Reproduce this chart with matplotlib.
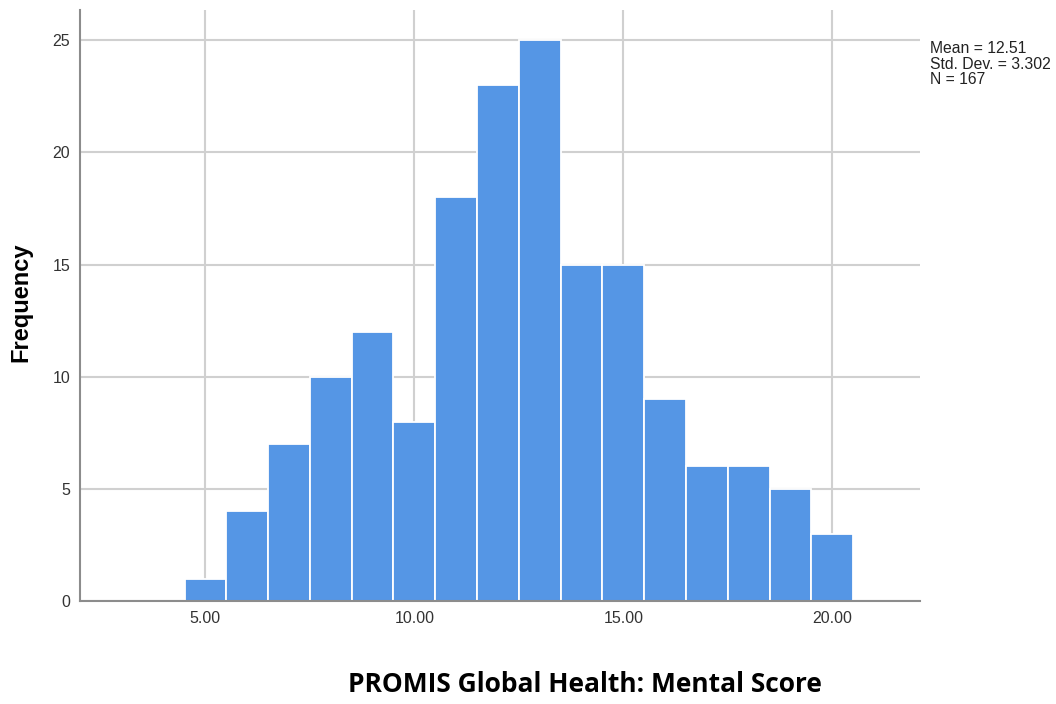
#!/usr/bin/env python3
"""Histogram of PROMIS Global Health mental scores (SPSS style)."""

import matplotlib
matplotlib.use("Agg")
import matplotlib.pyplot as plt

# Bin centres (score) and their frequencies
bin_centers = [5, 6, 7, 8, 9, 10, 11, 12, 13, 14, 15, 16, 17, 18, 19, 20]
counts = [1, 4, 7, 10, 12, 8, 18, 23, 25, 15, 15, 9, 6, 6, 5, 3]
x_ticks = [5, 10, 15, 20]
y_ticks = [0, 5, 10, 15, 20, 25]
stats_lines = ["Mean = 12.51", "Std. Dev. = 3.302", "N = 167"]

BAR_COLOR = "#5596e5"
GRID_COLOR = "#d0d0d0"
AXIS_COLOR = "#8c8c8c"


def main():
    fig = plt.figure(figsize=(10.56, 7.04), dpi=100)
    ax = fig.add_axes([0.0758, 0.1463, 0.7955, 0.8395])

    ax.bar(bin_centers, counts, width=1.0, color=BAR_COLOR,
           edgecolor="white", linewidth=1.3, zorder=3)

    ax.set_xlim(2.0, 22.1)
    ax.set_ylim(0, 26.35)
    ax.set_xticks(x_ticks)
    ax.set_xticklabels([f"{v:.2f}" for v in x_ticks])
    ax.set_yticks(y_ticks)

    ax.grid(True, color=GRID_COLOR, linewidth=1.5, zorder=0)
    ax.tick_params(length=0, labelsize=11.5, colors="#333333", pad=7)
    for lab in ax.get_xticklabels() + ax.get_yticklabels():
        lab.set_family("Liberation Sans")

    for side in ("top", "right"):
        ax.spines[side].set_visible(False)
    for side in ("left", "bottom"):
        ax.spines[side].set_color(AXIS_COLOR)
        ax.spines[side].set_linewidth(1.5)
        ax.spines[side].set_zorder(4)

    fig.text(0.0194, 0.570, "Frequency", rotation=90, ha="center", va="center",
             fontsize=17, fontweight="bold", family="Liberation Sans")

    fig.text(0.554, 0.017, "PROMIS Global Health: Mental Score",
             ha="center", va="baseline", fontsize=19, fontweight="bold",
             family="Open Sans")

    fig.text(0.8807, 0.9418, "\n".join(stats_lines), ha="left", va="top",
             fontsize=11.3, family="Liberation Sans", color="#222222",
             linespacing=1.05)

    plt.savefig("out.png", dpi=100, facecolor="white")
    plt.close()


if __name__ == "__main__":
    main()
